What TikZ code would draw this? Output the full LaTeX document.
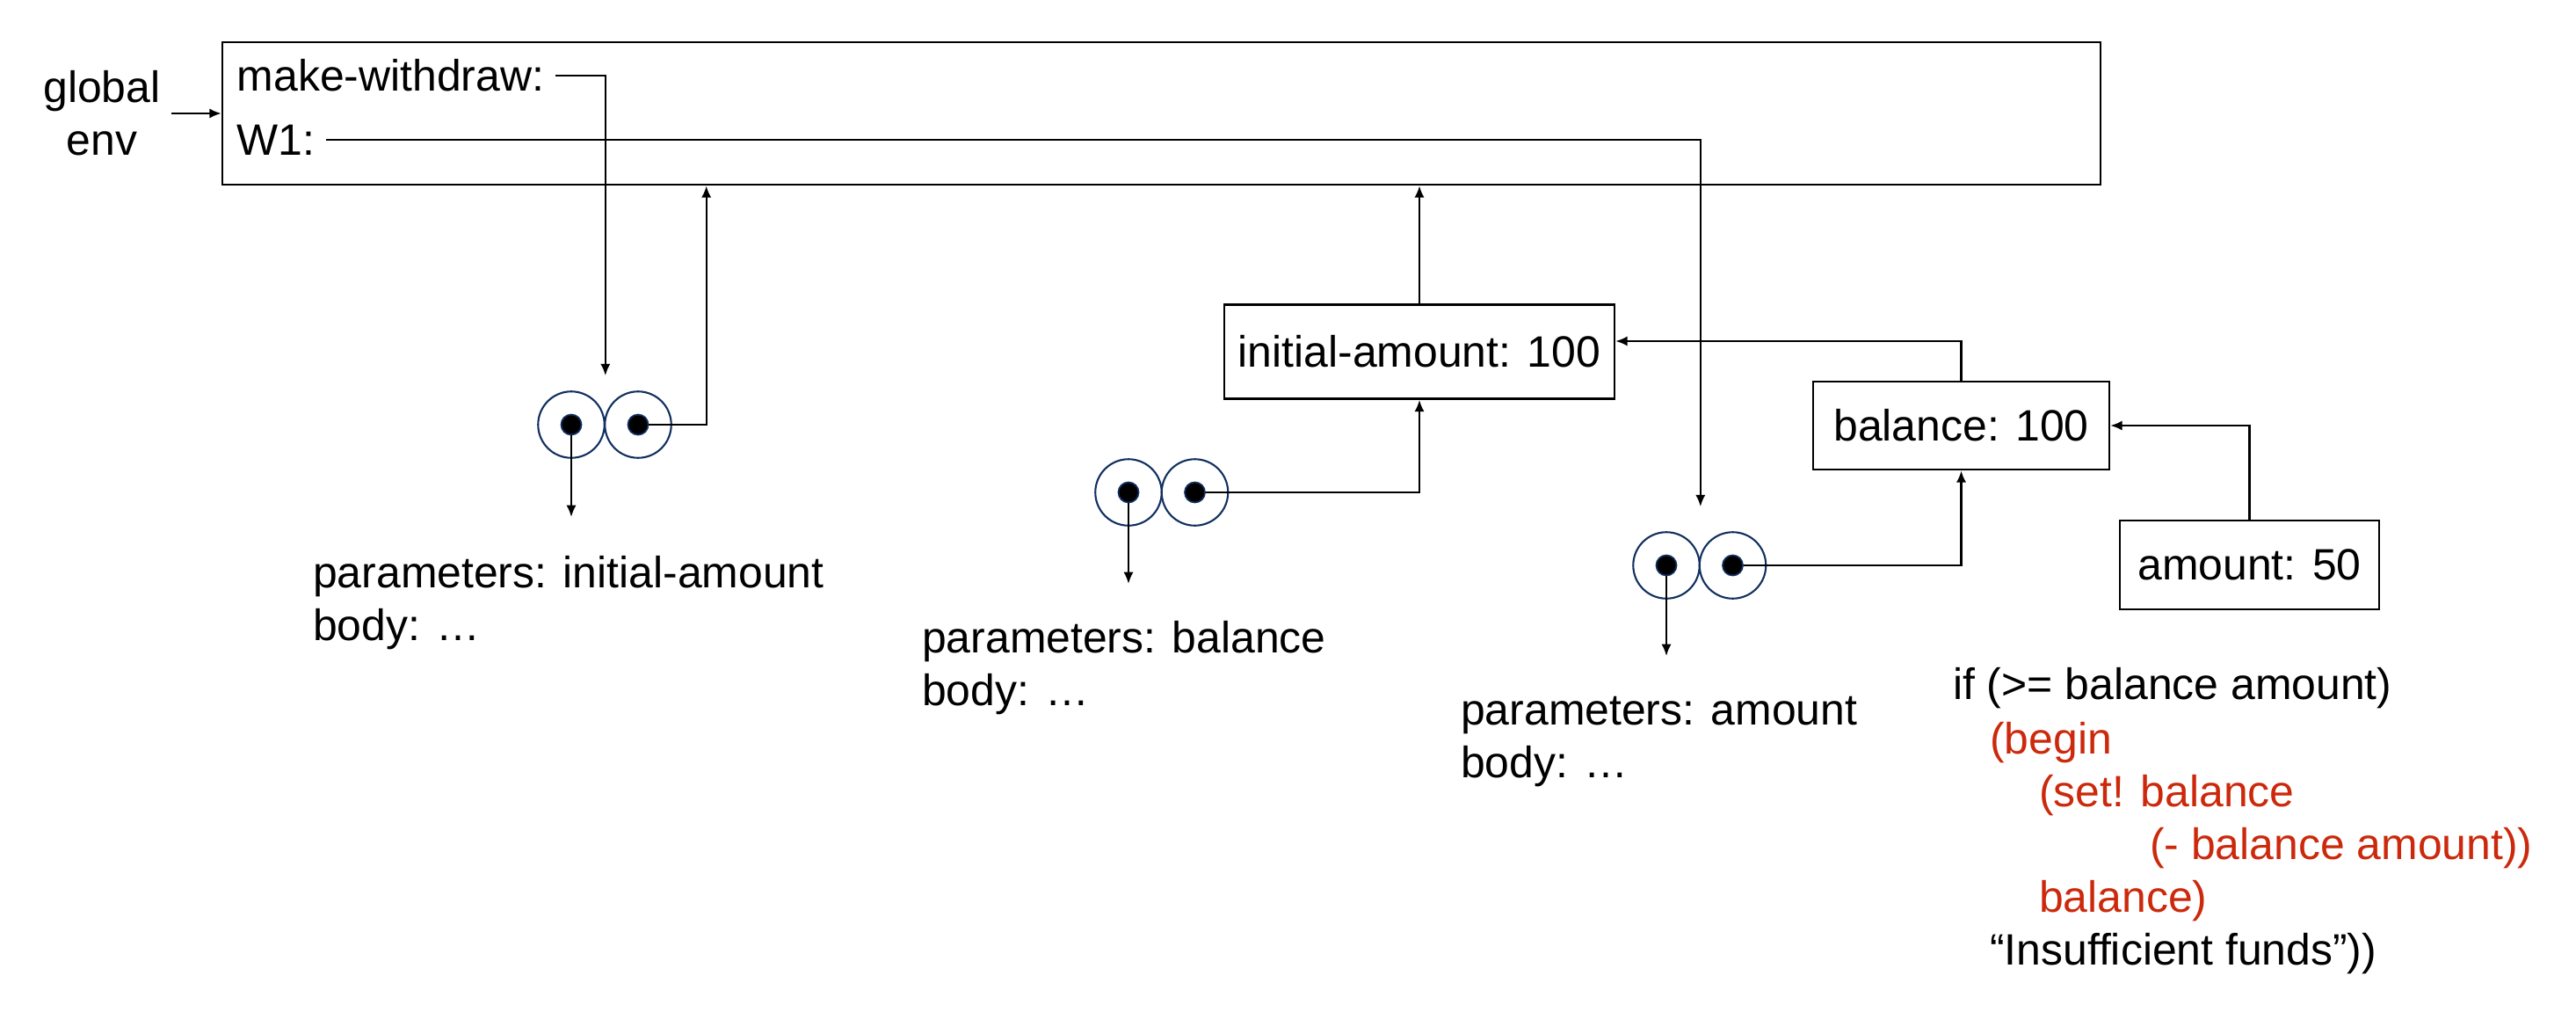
\documentclass[tikz,border=0pt]{standalone}
\usepackage{fontspec}
\setmainfont{Liberation Sans}
\usetikzlibrary{arrows.meta,positioning}
\definecolor{PairNavy}{RGB}{18,48,96}
\definecolor{CodeRed}{RGB}{204,41,12}

\begin{document}
\begin{tikzpicture}[
    font=\fontsize{14.2pt}{17pt}\selectfont,
    line width=0.65pt,
    >={Latex[length=3.8pt,width=3.2pt]},
    frm/.style={rectangle,draw,line width=0.75pt},
    cell/.style={circle,draw=PairNavy,line width=0.6pt,minimum size=0.755cm,inner sep=0pt},
    dot/.style={circle,draw=PairNavy,fill=black,line width=0.5pt,minimum size=0.23cm,inner sep=0pt},
    txt/.style={anchor=base west,inner sep=0pt},
    code/.style={txt,text=CodeRed}]
    \useasboundingbox (0,0) rectangle (29.31,-11.75);

    % Global environment frame
    \node[frm,minimum width=21.37cm,minimum height=1.62cm] (frame) at (13.215,-1.29) {};
    \node[align=center] (genv) at (1.16,-1.29) {global\\env};
    \node[anchor=west] (mw) at (2.57,-0.86) {make-withdraw:};
    \node[anchor=west] (w1) at (2.57,-1.59) {W1:};
    \draw[->] (genv) -- (frame.west);

    % Frames made by calls
    \node[frm,minimum width=4.44cm,minimum height=1.07cm] (ia) at (16.15,-4.00) {initial-amount: 100};
    \node[frm,minimum width=3.37cm,minimum height=1.00cm] (bal) at (22.315,-4.84) {balance: 100};
    \node[frm,minimum width=2.95cm,minimum height=1.01cm] (amt) at (25.595,-6.425) {amount: 50};

    % Procedure objects (two cells each)
    \node[cell] (c1a) at (6.50,-4.83) {};
    \node[cell] (c1b) at (7.26,-4.83) {};
    \node[dot] (d1a) at (c1a) {};
    \node[dot] (d1b) at (c1b) {};
    \node[cell] (c2a) at (12.84,-5.60) {};
    \node[cell] (c2b) at (13.595,-5.60) {};
    \node[dot] (d2a) at (c2a) {};
    \node[dot] (d2b) at (c2b) {};
    \node[cell] (c3a) at (18.96,-6.43) {};
    \node[cell] (c3b) at (19.715,-6.43) {};
    \node[dot] (d3a) at (c3a) {};
    \node[dot] (d3b) at (c3b) {};
    \coordinate (p1) at (6.50,-5.88);
    \coordinate (p2) at (12.84,-6.64);
    \coordinate (p3) at (18.96,-7.46);

    % Parameters and bodies
    \node[txt] (par1) at (3.55,-6.68) {parameters: initial-amount};
    \node[txt] (body1) at (3.55,-7.28) {body: …};
    \node[txt] (par2) at (10.48,-7.42) {parameters: balance};
    \node[txt] (body2) at (10.48,-8.02) {body: …};
    \node[txt] (par3) at (16.61,-8.24) {parameters: amount};
    \node[txt] (body3) at (16.61,-8.84) {body: …};

    % Body of the withdraw procedure
    \node[txt] (if) at (22.21,-7.95) {if (>= balance amount)};
    \node[code] (bgn) at (22.63,-8.57) {(begin};
    \node[code] (set) at (23.19,-9.17) {(set! balance};
    \node[code] (sub) at (24.45,-9.77) {(- balance amount))};
    \node[code] (ret) at (23.19,-10.37) {balance)};
    \node[txt] (msg) at (22.63,-10.97) {“Insufficient funds”))};

    % Pointers
    \draw[->,shorten >=0.17cm] (mw.east) -| (c1a.east |- c1a.north);
    \draw[->] (d1b) -| ([xshift=5.52cm]frame.south west);
    \draw[->] (d1a) -- (p1);
    \draw[->] (d2b) -| (ia.south);
    \draw[->] (d2a) -- (p2);
    \draw[->] (ia.north) -- (ia.north |- frame.south);
    \draw[->] (bal.north) |- ([yshift=0.12cm]ia.east);
    \draw[->] (amt.north) |- (bal.east);
    \draw[->,shorten >=0.28cm] (w1.east) -| (c3a.east |- c3a.north);
    \draw[->] (d3b) -| (bal.south);
    \draw[->] (d3a) -- (p3);
\end{tikzpicture}
\end{document}
